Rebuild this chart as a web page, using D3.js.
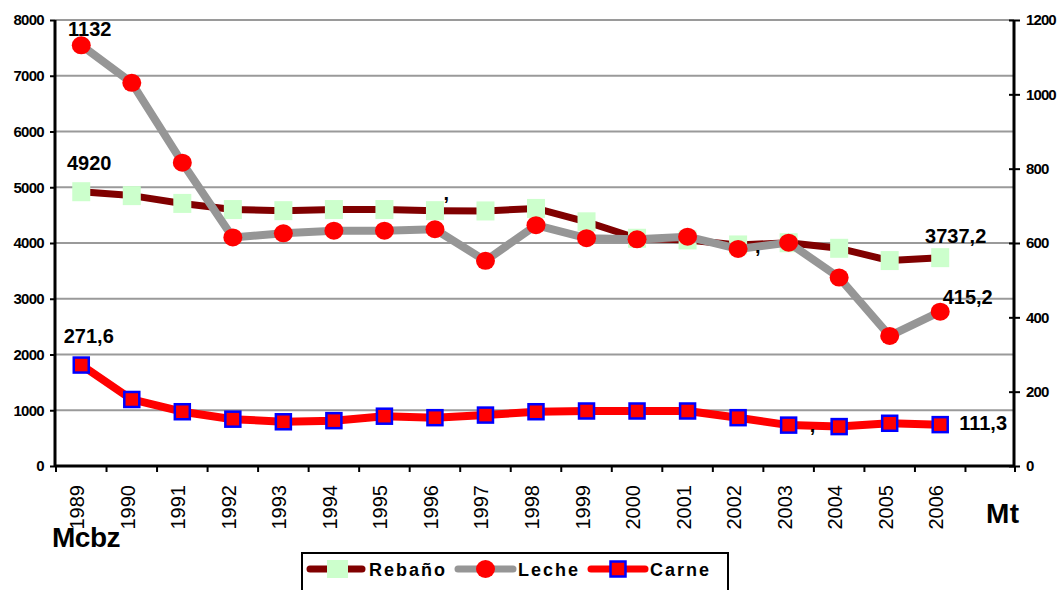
<!DOCTYPE html>
<html>
<head>
<meta charset="utf-8">
<script src="https://cdn.jsdelivr.net/npm/d3@7"></script>
<style>
  body { margin: 0; background: #fff; }
  svg text { font-family: Arial, "Liberation Sans", sans-serif; }
</style>
</head>
<body>
<div id="chart"></div>
<script>
// data
const years = ["1989","1990","1991","1992","1993","1994","1995","1996","1997",
	"1998","1999","2000","2001","2002","2003","2004","2005","2006"];
const rebano = [4920, 4850, 4710, 4600, 4580, 4600, 4600, 4580, 4575, 4620,
	4380, 4085, 4055, 3965, 4005, 3905, 3685, 3737.2];
const leche = [1132, 1031, 816, 615, 626, 633, 633, 637, 552, 648,
	613, 610, 617, 584, 601, 507, 350, 415.2];
const carne = [271.6, 179, 146, 126, 119, 122, 134, 130, 137, 146,
	148, 148, 148, 130, 110, 106, 115, 111.3];
const leftTicks = [0, 1000, 2000, 3000, 4000, 5000, 6000, 7000, 8000];
const rightTicks = [0, 200, 400, 600, 800, 1000, 1200];
const seriesNames = ["Rebaño", "Leche", "Carne"];
// data labels: text, series, year index
const labels = [
	["1132", "Leche", 0], ["4920", "Rebaño", 0], ["271,6", "Carne", 0],
	["3737,2", "Rebaño", 17], ["415,2", "Leche", 17], ["111,3", "Carne", 17],
	[",", "Rebaño", 7], [",", "Leche", 13], [",", "Carne", 14]
];

const width = 1061, height = 590;
const plotLeft = 55, plotRight = 1014, plotTop = 20, plotBottom = 466;
const nSlots = years.length + 1; // Excel left one empty category at the end
const step = (plotRight + 1 - plotLeft) / nSlots;

const svg = d3.select("#chart").append("svg")
	.attr("width", width).attr("height", height);
svg.append("rect").attr("width", width).attr("height", height).attr("fill", "#fff");

const x = d3.scaleBand().domain(years)
	.range([plotLeft + 1, plotLeft + 1 + step * years.length]).padding(0);
const yL = d3.scaleLinear().domain([0, 8000]).range([plotBottom, plotTop]);
const yR = d3.scaleLinear().domain([0, 1200]).range([plotBottom, plotTop]);
const cx = d => x(d) + x.bandwidth() / 2;

// gridlines
svg.append("g").selectAll("line").data(leftTicks.slice(1)).join("line")
	.attr("x1", plotLeft).attr("x2", plotRight)
	.attr("y1", d => yL(d)).attr("y2", d => yL(d))
	.attr("stroke", "#9a9a9a").attr("stroke-width", 2);

// left axis
const gL = svg.append("g").attr("transform", "translate(" + plotLeft + ",0)")
	.call(d3.axisLeft(yL).tickValues(leftTicks).tickSize(5).tickPadding(6).tickFormat(d3.format("d")));
gL.select(".domain").remove();
gL.selectAll(".tick line").attr("stroke", "#000").attr("stroke-width", 2);
gL.selectAll(".tick text").attr("font-size", 15).attr("font-weight", "bold")
	.attr("letter-spacing", -0.7).attr("fill", "#000");

// right axis
const gR = svg.append("g").attr("transform", "translate(" + plotRight + ",0)")
	.call(d3.axisRight(yR).tickValues(rightTicks).tickSize(6).tickPadding(6).tickFormat(d3.format("d")));
gR.select(".domain").remove();
gR.selectAll(".tick line").attr("x1", -5).attr("stroke", "#000").attr("stroke-width", 2);
gR.selectAll(".tick text").attr("font-size", 15).attr("font-weight", "bold")
	.attr("letter-spacing", -0.9).attr("fill", "#000");

// x axis ticks at category boundaries
const bounds = years.map(d => x(d)).concat([x.range()[1], plotRight + 1]);
svg.append("g").selectAll("line").data(bounds).join("line")
	.attr("x1", d => d).attr("x2", d => d).attr("y1", plotBottom).attr("y2", plotBottom + 6)
	.attr("stroke", "#000").attr("stroke-width", 2);
svg.append("g").selectAll("text").data(years).join("text")
	.attr("transform", d => "translate(" + (cx(d) + 3) + "," + (plotBottom + 19) + ") rotate(-90)")
	.attr("text-anchor", "end").attr("font-size", 20).attr("fill", "#000")
	.text(d => d);

// axis lines
svg.append("line").attr("x1", plotLeft).attr("x2", plotLeft).attr("y1", plotTop).attr("y2", plotBottom + 1)
	.attr("stroke", "#000").attr("stroke-width", 3);
svg.append("line").attr("x1", plotRight).attr("x2", plotRight).attr("y1", plotTop).attr("y2", plotBottom + 1)
	.attr("stroke", "#000").attr("stroke-width", 3);
svg.append("line").attr("x1", plotLeft).attr("x2", plotRight + 1).attr("y1", plotBottom).attr("y2", plotBottom)
	.attr("stroke", "#000").attr("stroke-width", 3);

// series
const series = {
	"Rebaño": { values: rebano, y: yL, line: "#800000", width: 7 },
	"Leche": { values: leche, y: yR, line: "#969696", width: 8 },
	"Carne": { values: carne, y: yR, line: "#ff0000", width: 8 }
};

function drawMarker(g, name, px, py) {
	if (name === "Rebaño") {
		g.append("rect").attr("x", px - 9).attr("y", py - 9.5).attr("width", 18).attr("height", 19)
			.attr("fill", "#ccffcc");
	} else if (name === "Leche") {
		g.append("ellipse").attr("cx", px).attr("cy", py).attr("rx", 9.5).attr("ry", 9)
			.attr("fill", "#ff0000");
	} else {
		g.append("rect").attr("x", px - 7.5).attr("y", py - 7.5).attr("width", 15).attr("height", 15)
			.attr("fill", "#ff0000").attr("stroke", "#0000ff").attr("stroke-width", 2.5);
	}
}

seriesNames.forEach(name => {
	const s = series[name];
	const g = svg.append("g");
	const line = d3.line().x((d, i) => cx(years[i])).y(d => s.y(d));
	g.append("path").datum(s.values).attr("d", line)
		.attr("fill", "none").attr("stroke", s.line).attr("stroke-width", s.width)
		.attr("stroke-linejoin", "round");
	s.values.forEach((v, i) => drawMarker(g, name, cx(years[i]), s.y(v)));
});

// data labels
const labelOffset = {
	"1132": [8.5, -9, "middle"], "4920": [8, -22, "middle"], "271,6": [7.5, -22, "middle"],
	"3737,2": [15.5, -15, "middle"], "415,2": [27.5, -8, "middle"], "111,3": [19, 5.5, "start"]
};
const commaOffset = { "Rebaño": [8.5, -10.5], "Leche": [17, 4], "Carne": [21, 6.5] };
svg.append("g").selectAll("text").data(labels).join("text")
	.each(function(d) {
		const s = series[d[1]];
		const px = cx(years[d[2]]), py = s.y(s.values[d[2]]);
		const o = d[0] === "," ? commaOffset[d[1]].concat(["start"]) : labelOffset[d[0]];
		d3.select(this).attr("x", px + o[0]).attr("y", py + o[1]).attr("text-anchor", o[2]);
	})
	.attr("font-size", 20).attr("font-weight", "bold").attr("fill", "#000")
	.text(d => d[0]);

// axis titles
svg.append("text").attr("x", 52).attr("y", 547).attr("font-size", 28).attr("font-weight", "bold")
	.attr("letter-spacing", -0.5).text("Mcbz");
svg.append("text").attr("x", 986).attr("y", 523).attr("font-size", 28).attr("font-weight", "bold")
	.attr("letter-spacing", 0.5).text("Mt");

// legend
const legend = svg.append("g");
legend.append("rect").attr("x", 302).attr("y", 553).attr("width", 426).attr("height", 50)
	.attr("fill", "#fff").attr("stroke", "#000").attr("stroke-width", 2);
const ly = 569;
const legendItems = [
	{ name: "Rebaño", x1: 307, x2: 365, tx: 369 },
	{ name: "Leche", x1: 455, x2: 516, tx: 518 },
	{ name: "Carne", x1: 588, x2: 648, tx: 650 }
];
legendItems.forEach(it => {
	const s = series[it.name];
	legend.append("line").attr("x1", it.x1 + 3).attr("x2", it.x2 - 3).attr("y1", ly).attr("y2", ly)
		.attr("stroke", s.line).attr("stroke-width", 7).attr("stroke-linecap", "round");
	if (it.name === "Rebaño") {
		legend.append("rect").attr("x", 327).attr("y", 560).attr("width", 21).attr("height", 18)
			.attr("fill", "#ccffcc");
	} else {
		drawMarker(legend, it.name, (it.x1 + it.x2) / 2, ly);
	}
	legend.append("text").attr("x", it.tx).attr("y", ly + 6.5)
		.attr("font-size", 18).attr("font-weight", "bold").attr("letter-spacing", 2)
		.text(it.name);
});
</script>
</body>
</html>
